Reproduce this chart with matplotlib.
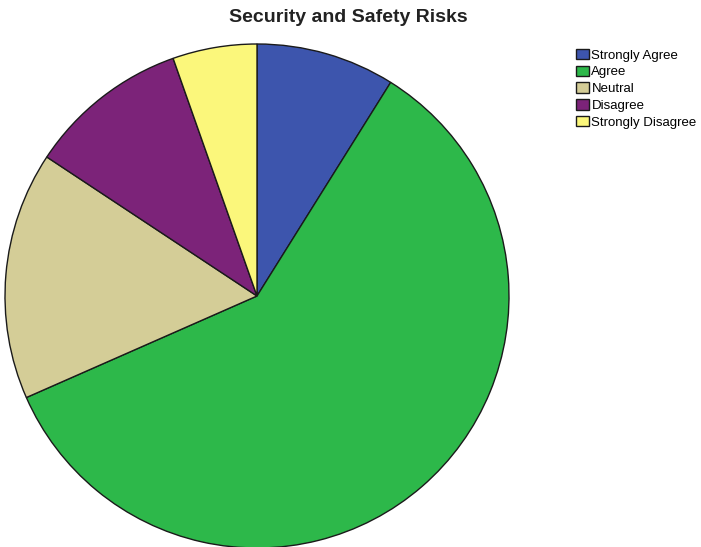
import matplotlib
matplotlib.use("Agg")
import matplotlib.pyplot as plt

plt.rcParams['font.family'] = ['Liberation Sans', 'DejaVu Sans']

labels = ['Strongly Agree', 'Agree', 'Neutral', 'Disagree', 'Strongly Disagree']
shares = [8.9, 59.5, 15.9, 10.3, 5.4]
colors = ['#3d55ad', '#2db84a', '#d4cd97', '#7c2379', '#fbf77b']

W, H = 701, 547
fig = plt.figure(figsize=(W / 100, H / 100), dpi=100)

# pie centred at (257, 296) px with radius 252 px
cx, cy, r = 257, 296, 252
ax = fig.add_axes([(cx - r) / W, (H - cy - r) / H, 2 * r / W, 2 * r / H])
wedges, _ = ax.pie(shares, colors=colors, startangle=90, counterclock=False,
                   radius=1.0,
                   wedgeprops=dict(edgecolor='#1a1a1a', linewidth=1.0))
ax.set_xlim(-1, 1)
ax.set_ylim(-1, 1)
ax.set_aspect('equal')
ax.axis('off')

fig.text(348 / W, 1 - 18 / H, 'Security and Safety Risks', ha='center',
         va='center', fontsize=14, fontweight='bold', color='#222222')

leg = fig.legend(wedges, labels, loc='upper left',
                 bbox_to_anchor=(571 / W, 1 - 43.5 / H), frameon=False,
                 fontsize=9.5, handlelength=1.0, handleheight=0.85,
                 handletextpad=0.15, labelspacing=0.3, borderaxespad=0)

fig.savefig('out.png', dpi=100)
